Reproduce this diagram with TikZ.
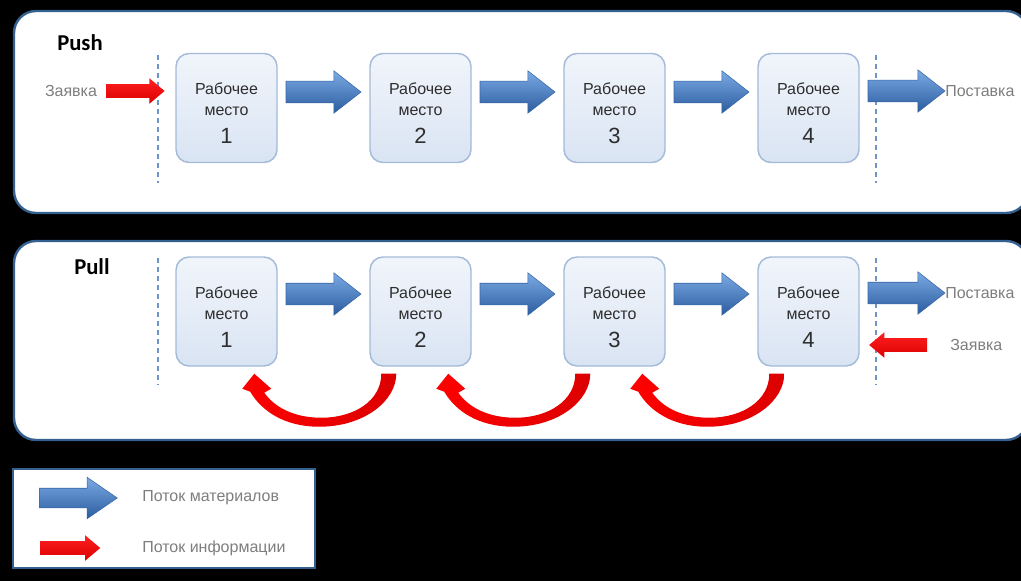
\documentclass[tikz,border=0pt]{standalone}
\usepackage{fontspec}
\setmainfont{Liberation Sans}
\newfontfamily\titlefont{Carlito}
\usetikzlibrary{shapes.arrows,calc}

% one pixel of the layout grid
\newlength\pxu
\setlength\pxu{0.75pt}

% size of the station numbers
\newcommand\wsnum{\fontsize{16.5}{19}\selectfont}
% three-line workstation caption
\newcommand\wstext[1]{\rule{0pt}{17pt}Рабочее\\место\\[5.25pt]{\wsnum #1}}

\definecolor{paneledge}{HTML}{34608F}
\definecolor{boxtop}{HTML}{F1F5FB}
\definecolor{boxbot}{HTML}{D9E4F3}
\definecolor{boxedge}{HTML}{A3BAD8}
\definecolor{boxtext}{HTML}{2E2E2E}
\definecolor{labelgrey}{HTML}{7E7E7E}
\definecolor{bluetop}{HTML}{7BAAE4}
\definecolor{bluemid}{HTML}{4C84CD}
\definecolor{bluebot}{HTML}{2B5C9E}
\definecolor{blueedge}{HTML}{3767A8}
\definecolor{redtop}{HTML}{FF2020}
\definecolor{redbot}{HTML}{DC0000}
\definecolor{guide}{HTML}{6E94C8}

% feedback (kanban) arrow from the bottom of one workstation back to the previous one
\newcommand\feedback[1]{%
  \begin{scope}[shift={(#1.south west)}]
    \shade[left color=red, middle color=red, right color=redbot]
      (12,7) -- (27,7)
      .. controls (27,34) and (-5,60) .. (-50,60)
      .. controls (-85,60) and (-108,44) .. (-119,25)
      -- (-127,22) -- (-115,7) -- (-98,22) -- (-105,26)
      .. controls (-92,44) and (-70,51) .. (-48,51)
      .. controls (-15,51) and (12,34) .. cycle;
  \end{scope}}

\begin{document}
\begin{tikzpicture}[x=0.75pt,y=-0.75pt,
  panel/.style={draw=paneledge, line width=1.8pt, fill=white, rounded corners=16.5pt},
  wsbox/.style={rectangle, rounded corners=9.75pt,
    minimum width=101\pxu, minimum height=109\pxu, inner sep=0pt,
    top color=boxtop, bottom color=boxbot, draw=boxedge, line width=1.1pt,
    align=center, text=boxtext, font=\fontsize{12}{15.75}\selectfont},
  matflow/.style={single arrow, single arrow tip angle=76,
    single arrow head extend=10.5\pxu, inner xsep=0pt, inner ysep=10.5\pxu,
    minimum height=75\pxu, top color=bluetop, middle color=bluemid,
    bottom color=bluebot, draw=blueedge, line width=0.4pt, anchor=tail},
  infoflow/.style={single arrow, single arrow tip angle=80,
    single arrow head extend=6\pxu, inner xsep=0pt, inner ysep=6.5\pxu,
    minimum height=58\pxu, top color=redtop, bottom color=redbot},
  greylabel/.style={text=labelgrey, font=\fontsize{12}{14}\selectfont, inner sep=0pt},
  modetitle/.style={font=\titlefont\bfseries\fontsize{17}{20}\selectfont, inner sep=0pt},
  guideline/.style={draw=guide, line width=1.35pt, dash pattern=on 3.75pt off 3pt}]

\useasboundingbox (0,0) rectangle (1021,581);
\fill[black] (0,0) rectangle (1021,581);

% ---------------- panels ----------------
\draw[panel] (14,11) rectangle (1028,213);
\draw[panel] (14,241) rectangle (1028,440);
\draw[draw=paneledge, line width=1.5pt, fill=white] (13,469) rectangle (315,568);

% ---------------- Push ----------------
\node[modetitle, anchor=west] (push) at (57,43) {Push};

\coordinate (pg1a) at (158,55);  \coordinate (pg1b) at (158,183);
\coordinate (pg2a) at (876,55);  \coordinate (pg2b) at (876,183);
\draw[guideline] (pg1a) -- (pg1b);
\draw[guideline] (pg2a) -- (pg2b);

\node[wsbox] (t1) at (226.5,108) {\wstext{1}};
\node[wsbox] (t2) at (420.5,108) {\wstext{2}};
\node[wsbox] (t3) at (614.5,108) {\wstext{3}};
\node[wsbox] (t4) at (808.5,108) {\wstext{4}};

\node[matflow] (t12) at ($(t1.east |- 0,92)+(8,0)$) {};
\node[matflow] (t23) at ($(t2.east |- 0,92)+(8,0)$) {};
\node[matflow] (t34) at ($(t3.east |- 0,92)+(8,0)$) {};
\node[matflow, minimum height=77\pxu] (tout) at ($(t4.east |- 0,91)+(8,0)$) {};
\node[greylabel, anchor=west] (tdeliv) at (945,91) {Поставка};

\node[infoflow, anchor=tip] (tin) at (165,91) {};
\node[greylabel] (torder) at (71,91) {Заявка};

% ---------------- Pull ----------------
\node[modetitle, anchor=west] (pull) at (74,267) {Pull};

\coordinate (lg1a) at (158,258); \coordinate (lg1b) at (158,385);
\coordinate (lg2a) at (876,258); \coordinate (lg2b) at (876,385);
\draw[guideline] (lg1a) -- (lg1b);
\draw[guideline] (lg2a) -- (lg2b);

\node[wsbox] (b1) at (226.5,311.5) {\wstext{1}};
\node[wsbox] (b2) at (420.5,311.5) {\wstext{2}};
\node[wsbox] (b3) at (614.5,311.5) {\wstext{3}};
\node[wsbox] (b4) at (808.5,311.5) {\wstext{4}};

\node[matflow] (b12) at ($(b1.east |- 0,294)+(8,0)$) {};
\node[matflow] (b23) at ($(b2.east |- 0,294)+(8,0)$) {};
\node[matflow] (b34) at ($(b3.east |- 0,294)+(8,0)$) {};
\node[matflow, minimum height=77\pxu] (bout) at ($(b4.east |- 0,293)+(8,0)$) {};
\node[greylabel, anchor=west] (bdeliv) at (945,293) {Поставка};

\node[infoflow, shape border rotate=180, anchor=tip] (bin) at ($(b4.east |- 0,345)+(9,0)$) {};
\node[greylabel, anchor=west] (border) at (950,345) {Заявка};

\feedback{b2}
\feedback{b3}
\feedback{b4}

% ---------------- legend ----------------
\node[matflow, minimum height=78\pxu, inner ysep=9.5\pxu,
      single arrow head extend=11\pxu, single arrow tip angle=69] (keymat) at (39,498) {};
\node[greylabel, anchor=west] (keymattext) at (142,498) {Поток материалов};
\node[infoflow, minimum height=60\pxu, anchor=tail] (keyinfo) at (40,548) {};
\node[greylabel, anchor=west] (keyinfotext) at (142,548) {Поток информации};

\end{tikzpicture}
\end{document}
